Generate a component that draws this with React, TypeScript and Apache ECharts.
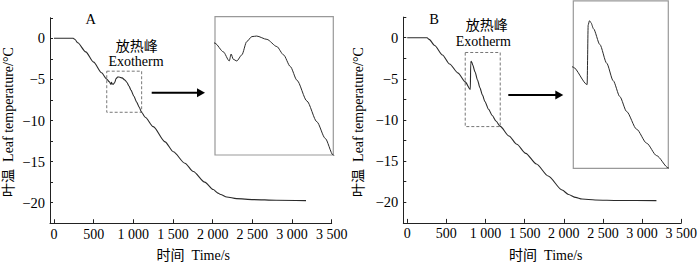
import React, { useEffect, useRef } from "react";
import * as echarts from "echarts";

// Panel A (time s, leaf temperature °C)
const timeA = [0, 100, 200, 243, 265, 300, 400, 500, 600, 665, 696, 718, 725, 733, 746, 765, 783, 802, 820, 858, 895, 920, 945, 970, 1007, 1044, 1075, 1104, 1150, 1251, 1400, 1504, 1650, 1756, 1900, 2008, 2060, 2100, 2177, 2300, 2512, 2800, 3176];
const tempA = [0, 0, 0, 0, -0.15, -0.55, -1.65, -2.9, -4.2, -4.96, -5.27, -5.6, -5.35, -5.54, -5.6, -5.38, -4.9, -4.72, -4.7, -4.82, -5.08, -5.38, -5.8, -6.3, -7.05, -7.8, -8.4, -9.0, -9.6, -10.75, -12.6, -13.8, -15.2, -16.2, -17.5, -18.4, -18.8, -19.0, -19.3, -19.5, -19.62, -19.7, -19.75];

// Panel B
const timeB = [0, 100, 200, 254, 280, 350, 450, 541, 650, 741, 806, 811, 817, 824, 836, 866, 898, 929, 960, 992, 1039, 1086, 1133, 1188, 1300, 1400, 1514, 1650, 1800, 1978, 2060, 2150, 2232, 2400, 2700, 3183];
const tempB = [0, 0, 0, 0, -0.2, -0.95, -2.1, -3.2, -4.3, -5.37, -6.3, -3.1, -2.87, -2.97, -3.3, -4.15, -5.15, -6.1, -6.95, -7.75, -8.7, -9.45, -10.12, -10.78, -11.95, -12.95, -14.05, -15.35, -16.8, -18.5, -19.05, -19.4, -19.6, -19.72, -19.78, -19.8];

// Zoom windows (x min, x max, y min, y max)
const zoomA = [665, 1105, -9, -4];
const zoomB = [741, 1188, -10.8, -1.8];

const xTicks = [0, 500, 1000, 1500, 2000, 2500, 3000, 3500];
const yRange = [-22.5, 2.5];
const xRange = [-50, 3500];

const FONT = "Liberation Serif, Noto Sans CJK SC, serif";
const LINE = "#2a2a2a";

function fmtX(v: number) {
  if (v >= 1000) return Math.floor(v / 1000) + " " + String(v % 1000).padStart(3, "0");
  return String(v);
}
function fmtY(v: number) {
  if (Math.abs(v % 5) > 1e-6) return "";
  return v < 0 ? "\u2212" + String(-v) : String(v);
}

function zip(a: number[], b: number[]) {
  return a.map((t, i) => [t, b[i]]);
}

export default function App() {
  const ref = useRef<HTMLDivElement>(null);
  useEffect(() => {
    if (!ref.current) return;
    const chart = echarts.init(ref.current, undefined, { renderer: "svg" });
    const mainX = (gridIndex: number) => ({
      type: "value",
      gridIndex,
      min: xRange[0],
      max: xRange[1],
      axisLine: { onZero: false, lineStyle: { color: "#222", width: 1 } },
      axisTick: { inside: true, length: 4, customValues: xTicks, lineStyle: { color: "#222" } },
      axisLabel: { customValues: xTicks, formatter: fmtX, color: "#000", fontFamily: FONT, fontSize: 14, margin: 4 },
      splitLine: { show: false },
    });
    const mainY = (gridIndex: number) => ({
      type: "value",
      gridIndex,
      min: yRange[0],
      max: yRange[1],
      interval: 2.5,
      axisLine: { show: true, onZero: false, lineStyle: { color: "#222", width: 1 } },
      axisTick: { show: true, inside: true, length: 3, lineStyle: { color: "#222" } },
      axisLabel: { interval: 0, formatter: fmtY, color: "#000", fontFamily: FONT, fontSize: 14.5, margin: 5 },
      splitLine: { show: false },
    });
    const insetX = (gridIndex: number, z: number[]) => ({ type: "value", gridIndex, min: z[0], max: z[1], show: false, splitLine: { show: false } });
    const insetY = (gridIndex: number, z: number[]) => ({ type: "value", gridIndex, min: z[2], max: z[3], show: false, splitLine: { show: false } });
    const box = (z: number[]) => ({
      silent: true,
      itemStyle: { color: "rgba(0,0,0,0)", borderColor: "#777", borderWidth: 1, borderType: [3, 2] },
      label: { show: false },
      data: [[{ coord: [z[0], z[3]] }, { coord: [z[1], z[2]] }]],
    });
    const text = (x: number, y: number, t: string, size = 14, rotation = 0) => ({
      type: "text",
      x,
      y,
      rotation,
      style: { text: t, fontFamily: FONT, fontSize: size, fill: "#000", align: "center", verticalAlign: "middle" },
    });
    const arrow = (x1: number, x2: number, y: number) => [
      { type: "line", shape: { x1, y1: y, x2: x2 - 6, y2: y }, style: { stroke: "#000", lineWidth: 2 } },
      { type: "polygon", shape: { points: [[x2 - 8, y - 4.5], [x2, y], [x2 - 8, y + 4.5]] }, style: { fill: "#000" } },
    ];
    const lineSeries = (ax: number, t: number[], v: number[], width: number, extra: any = {}) => ({
      type: "line",
      xAxisIndex: ax,
      yAxisIndex: ax,
      data: zip(t, v),
      showSymbol: false,
      smooth: 0.25,
      smoothMonotone: "x",
      clip: true,
      lineStyle: { color: LINE, width },
      ...extra,
    });
    chart.setOption({
      animation: false,
      backgroundColor: "#fff",
      grid: [
        { left: 50, top: 17.75, width: 281.7, height: 205.5 },
        { left: 215, top: 16.7, width: 118.3, height: 138.3, show: true, borderColor: "#999", borderWidth: 1.2, backgroundColor: "rgba(0,0,0,0)" },
        { left: 403.3, top: 17.1, width: 280, height: 205.8 },
        { left: 573.3, top: 0.8, width: 95, height: 167.5, show: true, borderColor: "#999", borderWidth: 1.2, backgroundColor: "rgba(0,0,0,0)" },
      ],
      xAxis: [mainX(0), insetX(1, zoomA), mainX(2), insetX(3, zoomB)],
      yAxis: [mainY(0), insetY(1, zoomA), mainY(2), insetY(3, zoomB)],
      series: [
        lineSeries(0, timeA, tempA, 1.1, { markArea: box(zoomA) }),
        lineSeries(1, timeA, tempA, 1),
        lineSeries(2, timeB, tempB, 1.1, { markArea: box(zoomB) }),
        lineSeries(3, timeB, tempB, 1),
      ],
      graphic: [
        text(90.7, 19, "A", 14.5),
        text(136.7, 46.7, "放热峰", 14),
        text(136, 61.7, "Exotherm", 14),
        ...arrow(151.7, 205, 92.7),
        text(8.3, 122, "叶温  Leaf temperature/°C", 14, Math.PI / 2),
        text(193.3, 255, "时间  Time/s", 14),
        text(434, 19, "B", 14.5),
        text(486.7, 25, "放热峰", 14),
        text(483.3, 41.7, "Exotherm", 14),
        ...arrow(508.3, 563.3, 95),
        text(358.3, 122, "叶温  Leaf temperature/°C", 14, Math.PI / 2),
        text(545.8, 255, "时间  Time/s", 14),
      ],
    });
    return () => chart.dispose();
  }, []);
  return <div ref={ref} style={{ position: "fixed", left: 0, top: 0, width: 700, height: 263, background: "#fff" }} />;
}
